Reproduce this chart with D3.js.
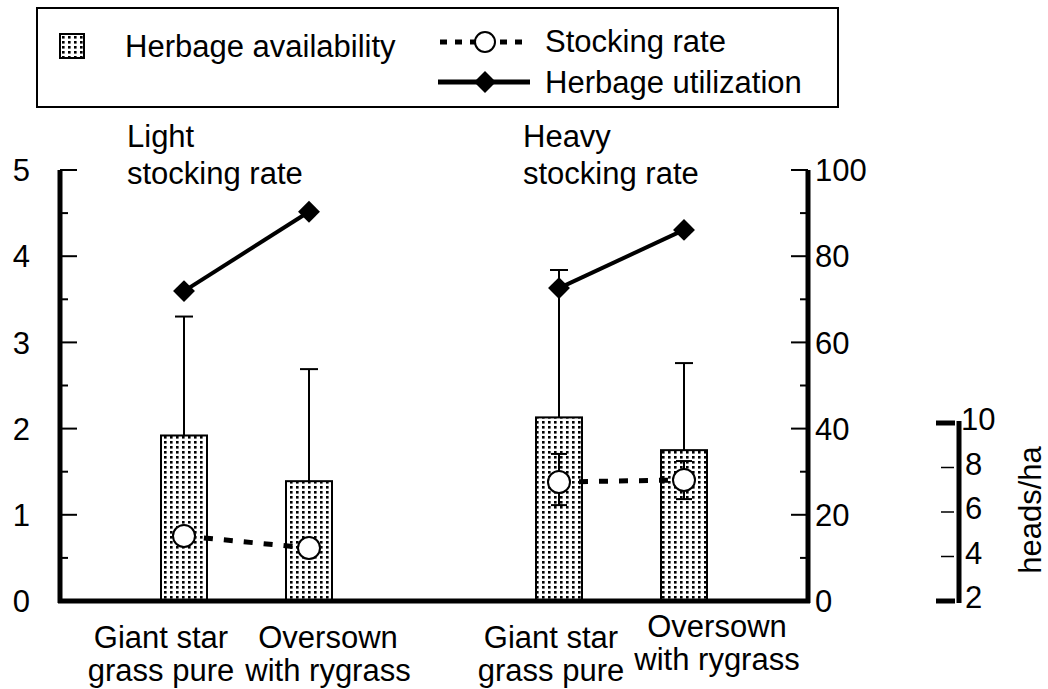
<!DOCTYPE html>
<html>
<head>
<meta charset="utf-8">
<script src="https://cdn.jsdelivr.net/npm/d3@7"></script>
<style>
  body { margin: 0; background: #fff; }
  text { font-family: "Liberation Sans", Arial, sans-serif; fill: #000; }
</style>
</head>
<body>
<svg id="chart"></svg>
<script>
// data
var groups = ["Light", "Heavy"];
var treatments = [["Giant star", "grass pure"], ["Oversown", "with rygrass"]];
var availability = [1.92, 1.39, 2.13, 1.75];        // t/ha, left axis
var availabilityErr = [3.30, 2.69, 3.84, 2.76];     // upper end of error bar
var utilization = [71.9, 90.3, 72.6, 86.1];          // %, right axis
var stocking = [4.92, 4.38, 7.35, 7.44];             // heads/ha
var stockingLow = [null, null, 6.31, 6.58];
var stockingHigh = [null, null, 8.61, 8.29];
var leftTicks = [0, 1, 2, 3, 4, 5];
var rightTicks = [0, 20, 40, 60, 80, 100];
var headTicks = [2, 4, 6, 8, 10];

var width = 1048;
var height = 689;
var fs = 31;

var svg = d3.select("#chart")
    .attr("width", width)
    .attr("height", height);

var defs = svg.append("defs");
var pat = defs.append("pattern")
    .attr("id", "dots")
    .attr("patternUnits", "userSpaceOnUse")
    .attr("width", 6)
    .attr("height", 5);
pat.append("rect").attr("width", 6).attr("height", 5).attr("fill", "#fff");
pat.append("rect").attr("x", 2).attr("y", 1).attr("width", 2.6).attr("height", 2.6).attr("fill", "#000");

// scales
var x = d3.scaleLinear().domain([0, 6]).range([59, 809]);
var yL = d3.scaleLinear().domain([0, 5]).range([601, 170]);
var yR = d3.scaleLinear().domain([0, 100]).range([601, 170]);
var yH = d3.scaleLinear().domain([2, 10]).range([601, 423]);

var items = [];
groups.forEach(function(g, gi) {
  treatments.forEach(function(t, ti) {
    var i = gi * 2 + ti;
    items.push({
      group: gi, slot: gi * 3 + ti + 1, label: t,
      avail: availability[i], err: availabilityErr[i],
      util: utilization[i], stock: stocking[i],
      lo: stockingLow[i], hi: stockingHigh[i]
    });
  });
});

var barW = 46;

// bars
svg.selectAll(".bar")
  .data(items)
  .enter()
  .append("rect")
    .attr("class", "bar")
    .attr("x", d => x(d.slot) - barW / 2)
    .attr("y", d => yL(d.avail))
    .attr("width", barW)
    .attr("height", d => yL(0) - yL(d.avail))
    .attr("fill", "url(#dots)")
    .attr("stroke", "#000")
    .attr("stroke-width", 2);

// bar error bars
var eb = svg.selectAll(".err").data(items).enter().append("g").attr("class", "err");
eb.append("line")
    .attr("x1", d => x(d.slot)).attr("x2", d => x(d.slot))
    .attr("y1", d => yL(d.avail)).attr("y2", d => yL(d.err))
    .attr("stroke", "#000").attr("stroke-width", 2);
eb.append("line")
    .attr("x1", d => x(d.slot) - 9).attr("x2", d => x(d.slot) + 9)
    .attr("y1", d => yL(d.err)).attr("y2", d => yL(d.err))
    .attr("stroke", "#000").attr("stroke-width", 2);

// stocking error bars
var sb = svg.selectAll(".serr").data(items.filter(d => d.lo != null)).enter().append("g");
sb.append("line")
    .attr("x1", d => x(d.slot)).attr("x2", d => x(d.slot))
    .attr("y1", d => yH(d.lo)).attr("y2", d => yH(d.hi))
    .attr("stroke", "#000").attr("stroke-width", 2);
["lo", "hi"].forEach(function(k) {
  sb.append("line")
    .attr("x1", d => x(d.slot) - 8).attr("x2", d => x(d.slot) + 8)
    .attr("y1", d => yH(d[k])).attr("y2", d => yH(d[k]))
    .attr("stroke", "#000").attr("stroke-width", 2);
});

// lines per group
groups.forEach(function(g, gi) {
  var gd = items.filter(d => d.group === gi);
  svg.append("path")
    .datum(gd)
    .attr("fill", "none")
    .attr("stroke", "#000")
    .attr("stroke-width", 5)
    .attr("stroke-dasharray", "9,11")
    .attr("d", d3.line().x(d => x(d.slot)).y(d => yH(d.stock)));
  svg.append("path")
    .datum(gd)
    .attr("fill", "none")
    .attr("stroke", "#000")
    .attr("stroke-width", 4)
    .attr("d", d3.line().x(d => x(d.slot)).y(d => yR(d.util)));
});

svg.selectAll(".circ")
  .data(items)
  .enter()
  .append("circle")
    .attr("cx", d => x(d.slot))
    .attr("cy", d => yH(d.stock))
    .attr("r", 11)
    .attr("fill", "#fff")
    .attr("stroke", "#000")
    .attr("stroke-width", 2);

var diamond = d3.symbol().type(d3.symbolSquare).size(240);
svg.selectAll(".dia")
  .data(items)
  .enter()
  .append("path")
    .attr("d", diamond)
    .attr("transform", d => "translate(" + x(d.slot) + "," + yR(d.util) + ") rotate(45)")
    .attr("fill", "#000");

// axes
var axisW = 5;
svg.append("line").attr("x1", 60).attr("x2", 60).attr("y1", yL(5)).attr("y2", yL(0) + 2)
  .attr("stroke", "#000").attr("stroke-width", axisW);
svg.append("line").attr("x1", 58).attr("x2", 810).attr("y1", 601).attr("y2", 601)
  .attr("stroke", "#000").attr("stroke-width", axisW);
svg.append("line").attr("x1", 808).attr("x2", 808).attr("y1", yR(100)).attr("y2", yR(0) + 2)
  .attr("stroke", "#000").attr("stroke-width", axisW);

var gl = svg.append("g").attr("transform", "translate(60,0)");
gl.selectAll(".tk")
  .data(d3.range(0.5, 5.01, 0.5))
  .enter()
  .append("line")
    .attr("x1", 0)
    .attr("x2", d => Math.abs(d % 1) < 0.01 ? 17 : 8)
    .attr("y1", d => yL(d)).attr("y2", d => yL(d))
    .attr("stroke", "#000").attr("stroke-width", 2);
gl.selectAll(".lab")
  .data(leftTicks)
  .enter()
  .append("text")
    .attr("x", -30)
    .attr("y", d => yL(d))
    .attr("dy", "0.36em")
    .attr("text-anchor", "end")
    .style("font-size", fs + "px")
    .text(d => d);

var gr = svg.append("g").attr("transform", "translate(808,0)");
gr.selectAll(".tk")
  .data(d3.range(10, 100.1, 10))
  .enter()
  .append("line")
    .attr("x1", 0)
    .attr("x2", d => d % 20 === 0 ? -17 : -8)
    .attr("y1", d => yR(d)).attr("y2", d => yR(d))
    .attr("stroke", "#000").attr("stroke-width", 2);
gr.selectAll(".lab")
  .data(rightTicks)
  .enter()
  .append("text")
    .attr("x", 7)
    .attr("y", d => yR(d))
    .attr("dy", "0.36em")
    .style("font-size", fs + "px")
    .text(d => d);

// heads/ha axis
var gh = svg.append("g").attr("transform", "translate(959,0)");
gh.append("line").attr("x1", 0).attr("x2", 0).attr("y1", yH(10) - 2).attr("y2", yH(2) + 2)
  .attr("stroke", "#000").attr("stroke-width", axisW);
gh.selectAll(".tk")
  .data(headTicks)
  .enter()
  .append("line")
    .attr("x1", d => (d === 2 || d === 10) ? -23 : -18)
    .attr("x2", d => (d === 2 || d === 10) ? -4 : -5)
    .attr("y1", d => yH(d)).attr("y2", d => yH(d))
    .attr("stroke", "#000")
    .attr("stroke-width", d => (d === 2 || d === 10) ? 5 : 1.5);
gh.selectAll(".lab")
  .data(headTicks)
  .enter()
  .append("text")
    .attr("x", d => d === 10 ? 2 : 6)
    .attr("y", d => yH(d) - 4)
    .attr("dy", "0.36em")
    .style("font-size", fs + "px")
    .text(d => d);
svg.append("text")
  .attr("transform", "translate(1041,510) rotate(-90)")
  .attr("text-anchor", "middle")
  .style("font-size", fs + "px")
  .text("heads/ha");

// category labels
var labelShift = [-23, 19, -8, 33];
var labelLift = [0, 0, 0, -11];
items.forEach(function(d, i) {
  var t = svg.append("text")
    .attr("text-anchor", "middle")
    .style("font-size", fs + "px");
  d.label.forEach(function(line, li) {
    t.append("tspan")
      .attr("x", x(d.slot) + labelShift[i])
      .attr("y", 648 + labelLift[i] + li * 33)
      .text(line);
  });
});

// group titles
var titleX = [127, 523];
groups.forEach(function(g, gi) {
  var t = svg.append("text").style("font-size", fs + "px");
  t.append("tspan").attr("x", titleX[gi]).attr("y", 147).text(g);
  t.append("tspan").attr("x", titleX[gi]).attr("y", 184).text("stocking rate");
});

// legend
var lg = svg.append("g");
lg.append("rect")
  .attr("x", 37).attr("y", 8).attr("width", 801).attr("height", 99)
  .attr("fill", "#fff").attr("stroke", "#000").attr("stroke-width", 2);
lg.append("rect")
  .attr("x", 60).attr("y", 34).attr("width", 24).attr("height", 24)
  .attr("fill", "url(#dots)").attr("stroke", "#000").attr("stroke-width", 2);
lg.append("text").attr("x", 125).attr("y", 57).style("font-size", fs + "px").text("Herbage availability");
lg.append("line")
  .attr("x1", 440).attr("x2", 530).attr("y1", 42).attr("y2", 42)
  .attr("stroke", "#000").attr("stroke-width", 5).attr("stroke-dasharray", "7,8");
lg.append("circle").attr("cx", 485).attr("cy", 42).attr("r", 10)
  .attr("fill", "#fff").attr("stroke", "#000").attr("stroke-width", 2);
lg.append("text").attr("x", 545).attr("y", 52).style("font-size", fs + "px").text("Stocking rate");
lg.append("line")
  .attr("x1", 438).attr("x2", 530).attr("y1", 82).attr("y2", 82)
  .attr("stroke", "#000").attr("stroke-width", 5);
lg.append("path")
  .attr("d", diamond)
  .attr("transform", "translate(485,82) rotate(45)")
  .attr("fill", "#000");
lg.append("text").attr("x", 545).attr("y", 93).style("font-size", fs + "px").text("Herbage utilization");
</script>
</body>
</html>
